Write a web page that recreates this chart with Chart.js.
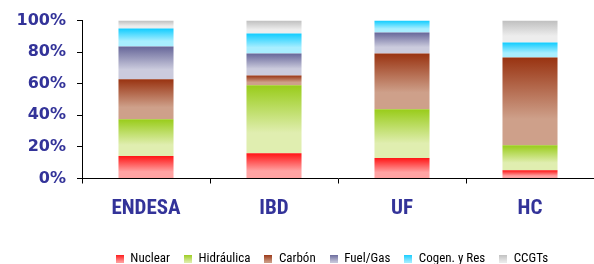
<!DOCTYPE html>
<html>
<head>
<meta charset="utf-8">
<script src="https://cdn.jsdelivr.net/npm/chart.js@4/dist/chart.umd.min.js"></script>
<style>
	html, body { margin: 0; padding: 0; background: #fff; }
	#wrap { width: 594px; height: 264px; }
</style>
</head>
<body>
<div id="wrap"><canvas id="mix-chart"></canvas></div>
<script>
// generation mix by company, share of output in %
const companies = [ 'ENDESA', 'IBD', 'UF', 'HC' ];
const sourceNames = [ 'Nuclear', 'Hidráulica', 'Carbón', 'Fuel/Gas', 'Cogen. y Res', 'CCGTs' ];
const nuclear = [ 14.3, 16.0, 13.0, 5.2 ];
const hidraulica = [ 23.2, 43.0, 30.8, 15.8 ];
const carbon = [ 25.3, 6.3, 35.4, 55.6 ];
const fuelGas = [ 20.8, 13.9, 13.3, 0 ];
const cogen = [ 11.4, 12.6, 7.5, 9.5 ];
const ccgts = [ 5.0, 8.2, 0, 13.9 ];
const yTicks = [ 0, 20, 40, 60, 80, 100 ];

const series = [ nuclear, hidraulica, carbon, fuelGas, cogen, ccgts ];

// [top colour, bottom colour] for each source
const shades = [
	[ '#ff1414', '#ffa3a3' ],
	[ '#99cc1a', '#e0eeb0' ],
	[ '#993311', '#cea08a' ],
	[ '#666699', '#cbcbdd' ],
	[ '#10ccff', '#a8eeff' ],
	[ '#bfbfbf', '#ededed' ],
];

const inkBlue = '#333399';
const narrow = '"Roboto Condensed", "Liberation Sans Narrow", sans-serif';

function segmentFill( ctx ) {
	const ds = ctx.datasetIndex;
	const chart = ctx.chart;
	if ( ctx.type !== 'data' || ! chart.chartArea || ! chart.scales.y ) {
		return shades[ ds ][ 0 ];
	}
	let base = 0;
	for ( let k = 0; k < ds; k++ ) {
		base += series[ k ][ ctx.dataIndex ];
	}
	const y = chart.scales.y;
	const top = y.getPixelForValue( base + series[ ds ][ ctx.dataIndex ] );
	const bottom = y.getPixelForValue( base );
	if ( ! isFinite( top ) || ! isFinite( bottom ) || top === bottom ) {
		return shades[ ds ][ 0 ];
	}
	const g = chart.ctx.createLinearGradient( 0, top, 0, bottom );
	g.addColorStop( 0, shades[ ds ][ 0 ] );
	g.addColorStop( 0.7, shades[ ds ][ 1 ] );
	g.addColorStop( 1, shades[ ds ][ 1 ] );
	return g;
}

// little gradient squares for the legend
function legendSwatch( i ) {
	const c = document.createElement( 'canvas' );
	c.width = 8;
	c.height = 8;
	const cx = c.getContext( '2d' );
	const g = cx.createLinearGradient( 0, 0, 0, 8 );
	g.addColorStop( 0, shades[ i ][ 0 ] );
	g.addColorStop( 1, shades[ i ][ 1 ] );
	cx.fillStyle = g;
	cx.fillRect( 0, 0, 8, 8 );
	return c;
}

// the legend sits a bit right of centre and low in the original
const legendNudge = {
	id: 'legendNudge',
	afterLayout( chart ) {
		const l = chart.legend;
		l.left += 35;
		l.right += 35;
		l.top += 11;
		l.bottom += 11;
	},
};

const datasets = series.map( ( values, i ) => ( {
	label: sourceNames[ i ],
	data: values,
	backgroundColor: segmentFill,
	borderWidth: 0,
	barPercentage: 0.43,
	categoryPercentage: 1,
} ) );

new Chart( document.getElementById( 'mix-chart' ), {
	type: 'bar',
	data: { labels: companies, datasets: datasets },
	plugins: [ legendNudge ],
	options: {
		responsive: true,
		maintainAspectRatio: false,
		animation: false,
		layout: { padding: { left: 0, right: 0, top: 20, bottom: 0 } },
		plugins: {
			tooltip: { enabled: false },
			legend: {
				position: 'bottom',
				labels: {
					usePointStyle: true,
					boxWidth: 8,
					boxHeight: 8,
					padding: 14,
					color: inkBlue,
					font: { family: narrow, size: 13 },
					generateLabels: () => sourceNames.map( ( name, i ) => ( {
						text: name,
						fillStyle: shades[ i ][ 0 ],
						strokeStyle: 'rgba(0,0,0,0)',
						lineWidth: 0,
						pointStyle: legendSwatch( i ),
						hidden: false,
						datasetIndex: i,
					} ) ),
				},
			},
		},
		scales: {
			x: {
				stacked: true,
				grid: { drawOnChartArea: false, drawTicks: true, tickLength: 5, color: '#000', offset: true },
				border: { color: '#000', width: 1 },
				ticks: {
					padding: 13,
					color: inkBlue,
					font: { family: narrow, size: 21, weight: 'bold' },
				},
				afterFit: axis => {
					axis.height = 48.5;
				},
			},
			y: {
				stacked: true,
				min: 0,
				max: 100,
				afterBuildTicks: axis => {
					axis.ticks = yTicks.map( v => ( { value: v } ) );
				},
				grid: { drawOnChartArea: false, drawTicks: true, tickLength: 5, color: '#000' },
				border: { color: '#000', width: 1 },
				ticks: {
					padding: 11,
					color: inkBlue,
					font: { family: '"DejaVu Sans", Verdana, sans-serif', size: 16, weight: 'bold' },
					callback: v => v + '%',
				},
				afterFit: axis => {
					axis.width = 82;
				},
			},
		},
	},
} );
</script>
</body>
</html>
